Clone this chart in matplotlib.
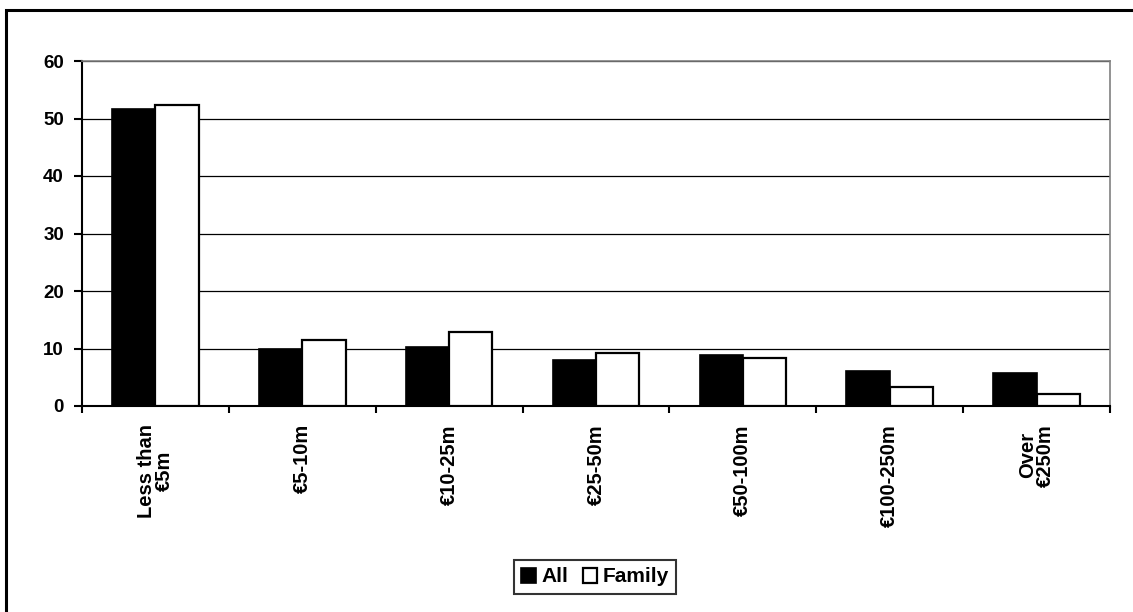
import matplotlib
matplotlib.use("Agg")
import matplotlib.pyplot as plt
from matplotlib.patches import Rectangle
import numpy as np

categories = ["Less than\n€5m", "€5-10m", "€10-25m", "€25-50m",
              "€50-100m", "€100-250m", "Over\n€250m"]
all_values = [51.6, 9.9, 10.3, 8.0, 8.8, 6.1, 5.8]
family_values = [52.3, 11.5, 12.9, 9.3, 8.3, 3.3, 2.1]
y_ticks = [0, 10, 20, 30, 40, 50, 60]

plt.rcParams["font.family"] = ["Liberation Sans", "DejaVu Sans"]
plt.rcParams["font.weight"] = "bold"

W, H = 1133, 612
fig = plt.figure(figsize=(W / 100, H / 100), dpi=100)

# outer chart frame
fig.patches.append(Rectangle((6 / W, -0.1), 1.2, 1 - 10 / H + 0.1,
                             transform=fig.transFigure, fill=False,
                             edgecolor="black", linewidth=2.2, zorder=0))

ax = fig.add_axes([82 / W, 1 - 406 / H, (1110 - 82) / W, (406 - 61) / H])

x = np.arange(len(categories))
bw = 0.295
ax.bar(x - bw / 2, all_values, bw, color="black", edgecolor="black",
       linewidth=1.2, label="All", zorder=3)
ax.bar(x + bw / 2, family_values, bw, color="white", edgecolor="black",
       linewidth=1.6, label="Family", zorder=3)

ax.set_xlim(-0.5, len(categories) - 0.5)
ax.set_ylim(0, 60)
ax.set_yticks(y_ticks)
ax.set_yticklabels([str(v) for v in y_ticks], fontweight="bold", fontsize=13.5)
ax.yaxis.grid(True, color="black", linewidth=0.9, zorder=0)
ax.set_axisbelow(True)

ax.set_xticks(np.arange(-0.5, len(categories), 1.0))
ax.set_xticklabels([])
ax.set_xticks(x, minor=True)
ax.set_xticklabels(categories, minor=True, rotation=90, fontweight="bold",
                   fontsize=14.5, ha="center", va="top",
                   multialignment="center", linespacing=0.9)
ax.tick_params(axis="x", which="minor", length=0, pad=13)
ax.tick_params(axis="x", which="major", length=5, width=1.5, direction="out")
ax.tick_params(axis="y", length=6, width=1.5, direction="out", pad=7)

ax.spines["left"].set_linewidth(1.5)
ax.spines["bottom"].set_linewidth(1.5)
ax.spines["top"].set_color("#808080")
ax.spines["right"].set_color("#808080")
ax.spines["top"].set_linewidth(1.2)
ax.spines["right"].set_linewidth(1.2)

leg = fig.legend(loc="center", bbox_to_anchor=(595 / W, 1 - 577 / H),
                 ncol=2, frameon=True, fancybox=False, edgecolor="black",
                 handlelength=0.7, handleheight=0.7, handletextpad=0.25,
                 columnspacing=0.7, borderpad=0.35,
                 prop={"weight": "bold", "size": 15})
leg.get_frame().set_linewidth(1.5)

fig.savefig("out.png", dpi=100, facecolor="white")
